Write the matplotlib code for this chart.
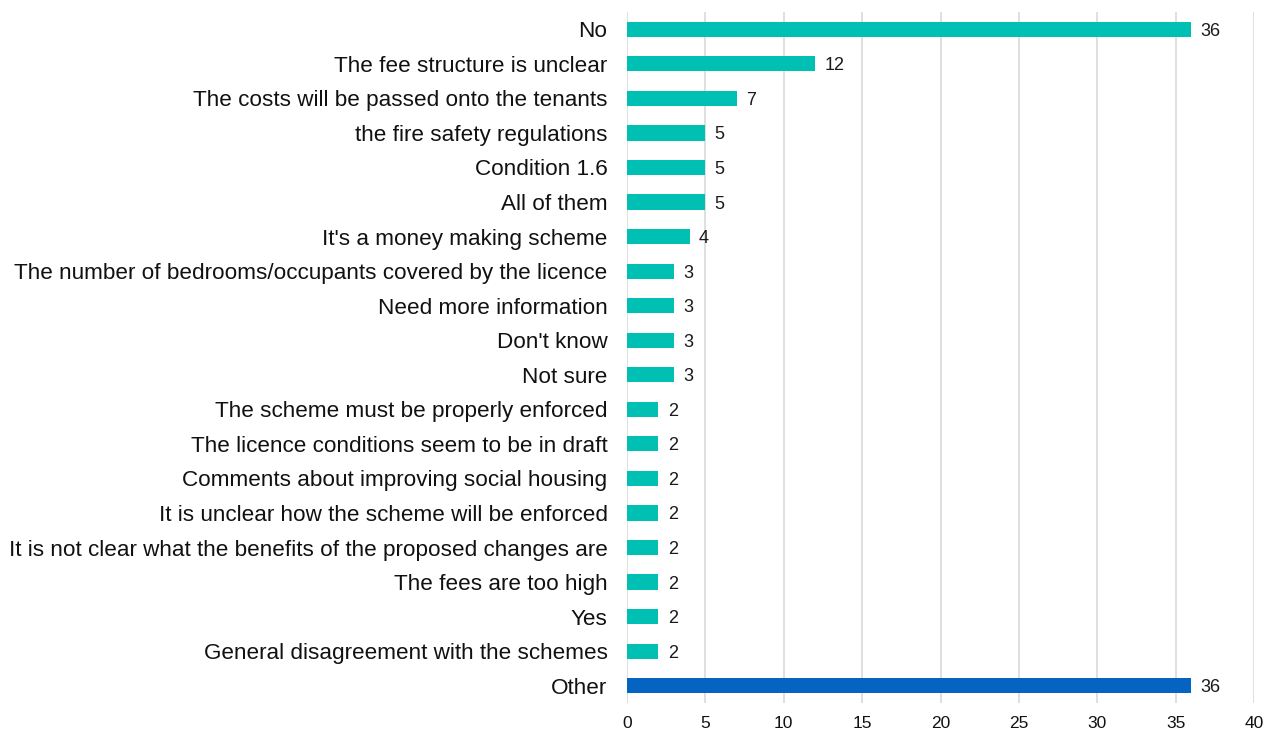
import matplotlib.pyplot as plt

plt.rcParams['font.family'] = ['Liberation Sans', 'DejaVu Sans']

categories = [
    "No",
    "The fee structure is unclear",
    "The costs will be passed onto the tenants",
    "the fire safety regulations",
    "Condition 1.6",
    "All of them",
    "It's a money making scheme",
    "The number of bedrooms/occupants covered by the licence",
    "Need more information",
    "Don't know",
    "Not sure",
    "The scheme must be properly enforced",
    "The licence conditions seem to be in draft",
    "Comments about improving social housing",
    "It is unclear how the scheme will be enforced",
    "It is not clear what the benefits of the proposed changes are",
    "The fees are too high",
    "Yes",
    "General disagreement with the schemes",
    "Other",
]
counts = [36, 12, 7, 5, 5, 5, 4, 3, 3, 3, 3, 2, 2, 2, 2, 2, 2, 2, 2, 36]

teal = "#00BFB3"
blue = "#0563C1"
colors = [blue if c == "Other" else teal for c in categories]

fig = plt.figure(figsize=(12.66, 7.33), dpi=100)
ax = fig.add_axes([627 / 1266, 30 / 733, 627 / 1266, 691 / 733])

y = list(range(len(categories)))
ax.barh(y, counts, height=0.44, color=colors, zorder=3)
for yi, v in zip(y, counts):
    ax.text(v + 0.6, yi, str(v), va="center_baseline", ha="left", fontsize=13, color="#1a1a1a")

ax.set_xlim(0, 40)
ax.set_ylim(len(categories) - 0.5, -0.5)
ax.set_xticks(range(0, 41, 5))
ax.set_yticks(y)
ax.set_yticklabels(categories, fontsize=16.2, color="#111111")
ax.tick_params(axis="x", labelsize=12.5, length=0, pad=9, labelcolor="#111111")
ax.tick_params(axis="y", length=0, pad=14)
ax.grid(axis="x", color="#D9D9D9", linewidth=1.2, zorder=0)
for s in ax.spines.values():
    s.set_visible(False)

fig.savefig("out.png", dpi=100)
